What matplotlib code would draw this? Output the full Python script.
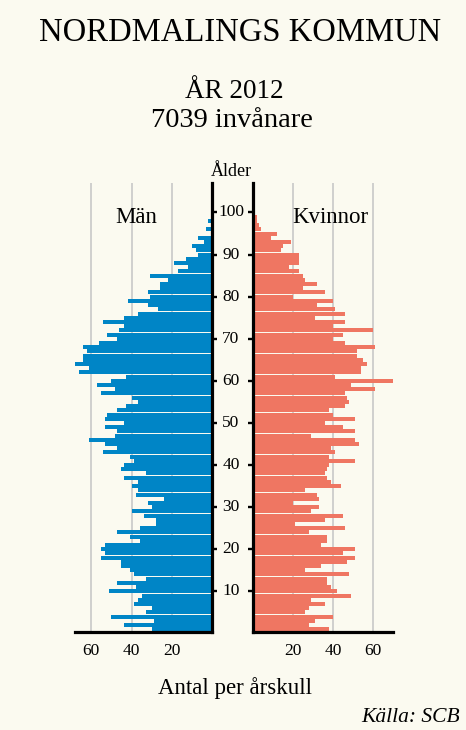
import numpy as np
import matplotlib
matplotlib.use("Agg")
import matplotlib.pyplot as plt
from matplotlib import transforms

# Åldrar 0..100+ (staplarna ritas en enhet upp, som i originalet)
alder = np.arange(0, 101)

man = [30, 44, 29, 50, 33, 30, 39, 37, 35, 51,
       38, 47, 33, 39, 41, 45, 45, 55, 53, 55,
       53, 36, 41, 47, 36, 28, 28, 34, 40, 30,
       32, 24, 38, 37, 40, 37, 44, 33, 45, 44,
       39, 41, 54, 47, 53, 61, 48, 47, 53, 44,
       53, 52, 47, 43, 37, 40, 55, 48, 57, 50,
       43, 66, 61, 71, 64, 64, 62, 64, 56, 47,
       52, 46, 44, 54, 44, 37, 27, 32, 42, 31,
       32, 26, 26, 22, 31, 17, 12, 19, 13, 7,
       8, 10, 4, 7, 0, 3, 0, 2, 0, 0, 0]

kvinnor = [38, 28, 31, 40, 26, 28, 36, 29, 49, 42,
           39, 37, 37, 48, 26, 34, 47, 51, 45, 51,
           34, 37, 37, 28, 46, 21, 36, 45, 29, 33,
           20, 33, 32, 26, 44, 39, 37, 36, 37, 38,
           51, 38, 41, 39, 53, 51, 29, 51, 45, 36,
           51, 40, 38, 46, 48, 47, 46, 61, 49, 71,
           41, 54, 54, 57, 55, 52, 52, 61, 46, 40,
           45, 60, 40, 46, 31, 46, 41, 32, 40, 20,
           36, 25, 32, 26, 25, 23, 18, 23, 23, 23,
           14, 15, 19, 9, 12, 4, 3, 2, 2, 1, 1]

age_ticks = list(range(10, 101, 10))
x_ticks = [20, 40, 60]

bg = "#fbfaf0"
blue = "#0085c6"
red = "#ef7662"
grid_c = "#c4c4c4"

plt.rcParams['font.family'] = ['Liberation Serif', 'DejaVu Serif']

fig = plt.figure(figsize=(4.66, 7.30), dpi=100, facecolor=bg)
ax_m = fig.add_axes([0.1609, 0.1342, 0.2951, 0.6151])
ax_k = fig.add_axes([0.5429, 0.1342, 0.3011, 0.6151])

pos = alder + 1

ax_m.barh(pos, man, height=0.95, color=blue, zorder=2)
ax_k.barh(pos, kvinnor, height=0.95, color=red, zorder=2)

ax_m.set_xlim(68, 0)
ax_k.set_xlim(0, 70)

for ax in (ax_m, ax_k):
    ax.set_facecolor('none')
    ax.set_ylim(0.33, 107)
    ax.set_xticks(x_ticks)
    ax.set_xticklabels([str(t) for t in x_ticks], fontsize=12.5)
    ax.tick_params(axis='x', length=0, pad=8)
    ax.xaxis.grid(True, color=grid_c, lw=1.1)
    ax.set_axisbelow(True)
    ax.set_yticks(age_ticks)
    ax.spines['top'].set_visible(False)
    ax.spines['bottom'].set_linewidth(2.3)

ax_m.spines['left'].set_visible(False)
ax_m.spines['right'].set_linewidth(2.3)
ax_m.yaxis.tick_right()
ax_m.tick_params(axis='y', direction='out', length=3.5, width=1.7, labelright=False)

ax_k.spines['right'].set_visible(False)
ax_k.spines['left'].set_linewidth(2.3)
ax_k.tick_params(axis='y', direction='out', length=3.5, width=1.7, labelleft=False)

# åldersetiketter mellan panelerna
trans = transforms.blended_transform_factory(fig.transFigure, ax_m.transData)
for a in age_ticks:
    ax_m.text(0.4957, a, str(a), transform=trans, ha='center', va='center',
              fontsize=12.5)

fig.text(0.4957, 0.7644, "Ålder", ha='center', va='center', fontsize=13)
fig.text(0.2918, 0.7027, "Män", ha='center', va='center', fontsize=16.5)
fig.text(0.7082, 0.7027, "Kvinnor", ha='center', va='center', fontsize=16.5)

fig.text(0.515, 0.9548, "NORDMALINGS KOMMUN", ha='center', va='center', fontsize=23.5)
fig.text(0.502, 0.8753, "ÅR 2012", ha='center', va='center', fontsize=19.5)
fig.text(0.497, 0.8356, "7039 invånare", ha='center', va='center', fontsize=20.5)

fig.text(0.504, 0.0575, "Antal per årskull", ha='center', va='center', fontsize=16.5)
fig.text(0.987, 0.0178, "Källa: SCB", ha='right', va='center', fontsize=15.5,
         style='italic')

fig.savefig("out.png", dpi=100, facecolor=bg)
